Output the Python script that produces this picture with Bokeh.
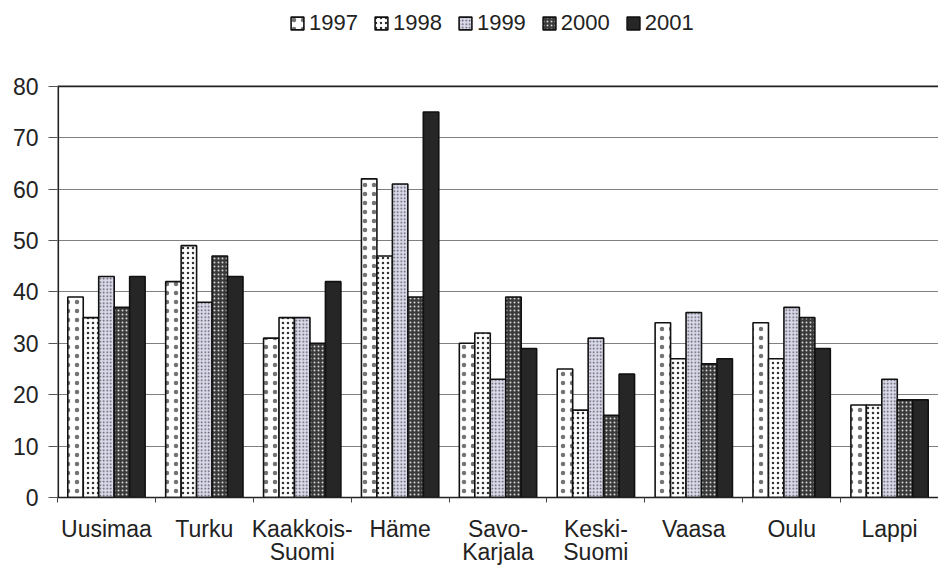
from bokeh.plotting import figure
from bokeh.models import Range1d, FixedTicker, Span, ColumnDataSource
from bokeh.embed import file_html
from bokeh.resources import INLINE

regions = ["Uusimaa", "Turku", "Kaakkois-\nSuomi", "Häme", "Savo-\nKarjala",
           "Keski-\nSuomi", "Vaasa", "Oulu", "Lappi"]
years = ["1997", "1998", "1999", "2000", "2001"]
v1997 = [39, 42, 31, 62, 30, 25, 34, 34, 18]
v1998 = [35, 49, 35, 47, 32, 17, 27, 27, 18]
v1999 = [43, 38, 35, 61, 23, 31, 36, 37, 23]
v2000 = [37, 47, 30, 39, 39, 16, 26, 35, 19]
v2001 = [43, 43, 42, 75, 29, 24, 27, 29, 19]
series = [v1997, v1998, v1999, v2000, v2001]
y_ticks = [0, 10, 20, 30, 40, 50, 60, 70, 80]
y_max = 80

styles = [
    dict(fill_color="white", hatch_pattern="dot", hatch_scale=9, hatch_color="#444", hatch_alpha=0.75),
    dict(fill_color="white", hatch_pattern="dot", hatch_scale=5, hatch_color="#333"),
    dict(fill_color="#d9d9ec", hatch_pattern="dot", hatch_scale=3.5, hatch_color="#555"),
    dict(fill_color="#3a3a3a", hatch_pattern="dot", hatch_scale=4, hatch_color="#d5d5d5"),
    dict(fill_color="#262626"),
]

FONT = "Liberation Sans"
TXT = "#222222"

W, H = 938, 568
LEFT, BOTTOM = 57, 70
frame_h = H - BOTTOM            # frame reaches the top of the canvas
plot_h = 412                    # pixel height of the 0..80 span
y_top = y_max * frame_h / plot_h

p = figure(width=W, height=H, output_backend="svg", toolbar_location=None,
           x_range=Range1d(0, len(regions)), y_range=Range1d(0, y_top),
           min_border_left=LEFT, min_border_right=0, min_border_top=0,
           min_border_bottom=BOTTOM)
p.outline_line_color = None
p.background_fill_color = "white"

bw = 0.158
n = len(years)
for j, (yr, vals) in enumerate(zip(years, series)):
    xs = [i + 0.5 + (j - (n - 1) / 2) * bw for i in range(len(regions))]
    src = ColumnDataSource(dict(x=xs, top=vals))
    p.vbar(x="x", top="top", width=bw, bottom=0, source=src,
           line_color="#111111", line_width=1.6, legend_label=yr, **styles[j])

# x axis
xa = p.xaxis[0]
xa.ticker = FixedTicker(ticks=[i + 0.5 for i in range(len(regions))],
                        minor_ticks=list(range(len(regions) + 1)))
xa.major_label_overrides = {i + 0.5: r for i, r in enumerate(regions)}
xa.major_tick_out = 0
xa.major_tick_in = 0
xa.minor_tick_out = 5
xa.minor_tick_in = 0
xa.minor_tick_line_color = "#444"
xa.axis_line_color = "#222"
xa.axis_line_width = 1.6
xa.major_label_text_font = FONT
xa.major_label_text_font_size = "23px"
xa.major_label_text_color = TXT
xa.major_label_text_line_height = 0.92
xa.major_label_standoff = 13

# y axis (line drawn only up to 80)
ya = p.yaxis[0]
ya.ticker = FixedTicker(ticks=y_ticks)
ya.major_tick_out = 9
ya.major_tick_in = 0
ya.minor_tick_out = 0
ya.minor_tick_in = 0
ya.major_tick_line_color = "#555"
ya.axis_line_color = None
ya.major_label_text_font = FONT
ya.major_label_text_font_size = "23px"
ya.major_label_text_color = TXT
ya.major_label_standoff = 10
p.segment(x0=[0], y0=[0], x1=[0], y1=[y_max], line_color="#222", line_width=3.2)

p.xgrid.grid_line_color = None
p.ygrid.grid_line_color = "#808080"
p.ygrid.grid_line_width = 1.2
p.ygrid.ticker = FixedTicker(ticks=y_ticks)

p.add_layout(Span(location=y_max, dimension="width", line_color="#222", line_width=1.8))

lg = p.legend[0]
lg.orientation = "horizontal"
lg.location = (232, 461)
lg.border_line_color = None
lg.background_fill_alpha = 0
lg.padding = 0
lg.margin = 0
lg.spacing = 15
lg.glyph_width = 16
lg.glyph_height = 16
lg.label_standoff = 4
lg.label_text_font = FONT
lg.label_text_font_size = "22px"
lg.label_text_color = TXT

open("out.html", "w").write(file_html(p, INLINE))
